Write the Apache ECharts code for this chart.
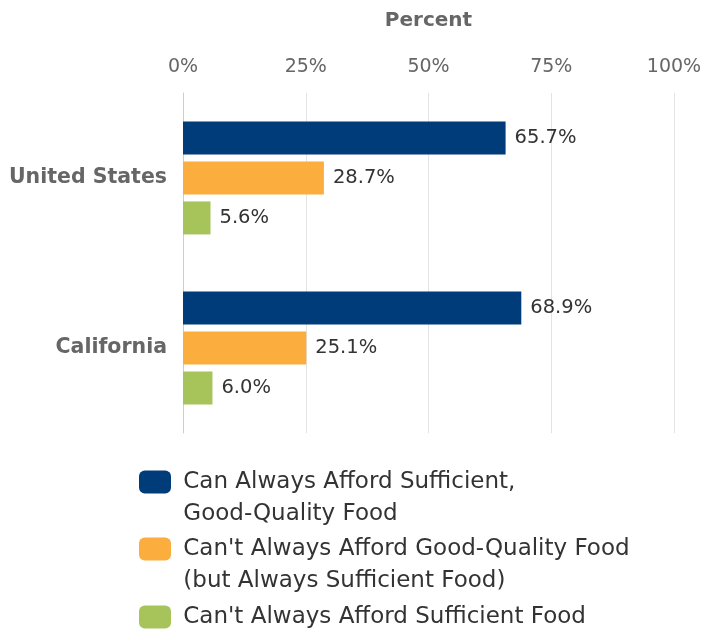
<!DOCTYPE html>
<html><head><meta charset="utf-8">
<script src="https://cdn.jsdelivr.net/npm/echarts@6/dist/echarts.min.js"></script>
<style>html,body{margin:0;padding:0;background:#fff}#c{width:706px;height:631px}</style>
</head><body><div id="c"></div>
<script>
const categories = ["United States", "California"];
const seriesNames = [
  "Can Always Afford Sufficient,\nGood-Quality Food",
  "Can't Always Afford Good-Quality Food\n(but Always Sufficient Food)",
  "Can't Always Afford Sufficient Food"
];
const canAlways = [65.7, 68.9];
const cantGoodQuality = [28.7, 25.1];
const cantSufficient = [5.6, 6.0];
const colors = ["#003b7a", "#fbad3e", "#a6c45a"];
const xTicks = [0, 25, 50, 75, 100];

const FONT = "DejaVu Sans";
const values = [canAlways, cantGoodQuality, cantSufficient];
const legendIconCenters = [482, 549, 617];
const LH = 32;

const legends = seriesNames.map((n, i) => {
  const lines = n.split('\n');
  const multi = lines.length > 1;
  return {
    orient: 'vertical', left: 139, padding: 0,
    top: multi ? legendIconCenters[i] - LH * 1.5 : legendIconCenters[i] - LH / 2,
    itemWidth: 32, itemHeight: 23, icon: 'roundRect',
    textStyle: {fontFamily: FONT, fontSize: 23, color: '#333', lineHeight: LH},
    formatter: name => {
      const ls = name.split('\n').map(l => ' ' + l);
      return ls.length > 1 ? ' \n' + ls.join('\n') : ls.join('\n');
    },
    data: [n]
  };
});

const chart = echarts.init(document.getElementById('c'));
chart.setOption({
  animation: false,
  textStyle: {fontFamily: FONT},
  grid: {left: 183, right: 32, top: 93, bottom: 198, containLabel: false},
  xAxis: {
    type: 'value', position: 'top', min: xTicks[0], max: xTicks[xTicks.length-1], interval: 25,
    name: 'Percent', nameLocation: 'middle', nameGap: 62,
    nameTextStyle: {fontFamily: FONT, fontWeight: 'bold', fontSize: 20, color: '#666'},
    axisLine: {show: false}, axisTick: {show: false},
    axisLabel: {formatter: '{value}%', fontFamily: FONT, fontSize: 19, color: '#666', margin: 16},
    splitLine: {lineStyle: {color: '#e3e3e3', width: 1}}
  },
  yAxis: {
    type: 'category', data: categories, inverse: true,
    axisLine: {lineStyle: {color: '#c0d0e0', width: 1}},
    axisTick: {length: 8, lineStyle: {color: '#c0d0e0'}},
    axisLabel: {fontFamily: FONT, fontWeight: 'bold', fontSize: 20.5, color: '#666', margin: 16,
      padding: [6, 0, 0, 0]}
  },
  legend: legends,
  series: seriesNames.map((n, i) => ({
    type: 'bar', name: n, data: values[i], barWidth: 33, barGap: '21%',
    itemStyle: {color: colors[i]},
    label: {show: true, position: 'right', distance: 9, formatter: p => p.value.toFixed(1) + '%',
      fontFamily: FONT, fontSize: 19.5, color: '#333'}
  }))
});
</script></body></html>
